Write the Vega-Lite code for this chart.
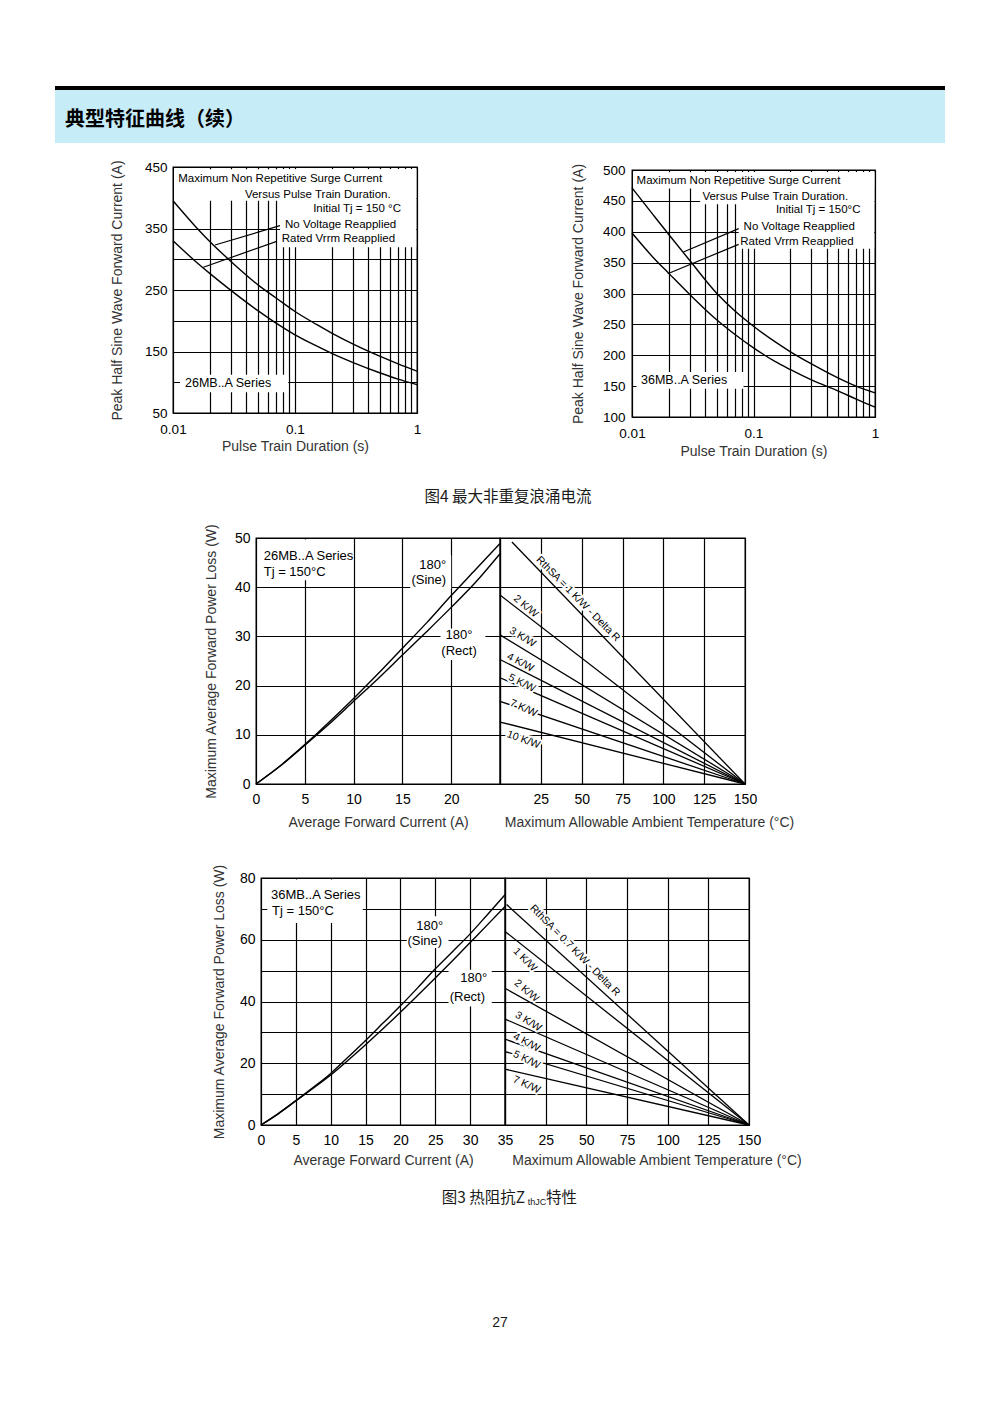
{
  "$schema": "https://vega.github.io/schema/vega-lite/v6.json",
  "padding": {"left": 55, "top": 86, "right": 0, "bottom": 0},
  "background": "white",
  "config": {
    "view": {"stroke": null},
    "font": "Liberation Sans",
    "axis": {"grid": true, "gridColor": "#000", "gridOpacity": 1, "gridWidth": 1.2, "domain": false, "ticks": false, "labelFont": "Liberation Sans", "labelFontSize": 13.5, "labelColor": "#000", "labelOverlap": false, "labelFlush": false, "titleFont": "Liberation Sans", "titleFontSize": 14, "titleFontWeight": "normal", "titleColor": "#333"},
    "text": {"font": "Liberation Sans", "color": "#000"}
  },
  "spacing": 0,
  "vconcat": [
    {"width": 890, "height": 4, "view": {"fill": "#000"}, "data": {"values": []}, "mark": "point"},
    {"bounds": "flush", "spacing": 0, "hconcat": [
      {"width": 10, "height": 53, "view": {"fill": "#c6ecf8"}, "data": {"values": []}, "mark": "point"},
      {"width": 180, "height": 53, "view": {"fill": "#c6ecf8"}, "data": {"values": [{"t": "典型特征曲线（续）"}]}, "mark": {"type": "text", "font": "Noto Sans CJK SC", "fontSize": 20, "fontWeight": "bold", "dy": 3}, "encoding": {"text": {"field": "t"}}},
      {"width": 700, "height": 53, "view": {"fill": "#c6ecf8"}, "data": {"values": []}, "mark": "point"}
    ]},
    {"width": 890, "height": 16, "data": {"values": []}, "mark": "point"},
    {"bounds": "flush", "spacing": 0, "hconcat": [
      {"width": 118, "height": 320, "data": {"values": []}, "mark": "point"},
      {
        "width": 244, "height": 246,
        "view": {"stroke": "#000", "strokeWidth": 1.3},
        "encoding": {
          "x": {"field": "x", "type": "quantitative", "scale": {"type": "log", "domain": [0.01, 1], "nice": false},
            "axis": {"values": [0.01,0.02,0.03,0.04,0.05,0.06,0.07,0.08,0.09,0.1,0.2,0.3,0.4,0.5,0.6,0.7,0.8,0.9,1],
              "labelExpr": "datum.value < 0.011 ? '0.01' : (abs(datum.value - 0.1) < 0.001 ? '0.1' : (datum.value > 0.99 ? '1' : ''))",
              "title": "Pulse Train Duration (s)", "labelPadding": 9, "titlePadding": 4}},
          "y": {"field": "y", "type": "quantitative", "scale": {"domain": [50, 450], "nice": false, "zero": false},
            "axis": {"values": [50,100,150,200,250,300,350,400,450], "labelExpr": "(datum.value - 50) % 100 == 0 ? datum.label : ''",
              "title": "Peak Half Sine Wave Forward Current (A)", "labelPadding": 6, "titlePadding": 20}}
        },
        "layer": [
          {"data": {"values": [
            {"x": 0.0102, "x2": 0.985, "y": 395.3, "y2": 446.5},
            {"x": 0.0754, "x2": 0.985, "y": 319.4, "y2": 446.5},
            {"x": 0.0114, "x2": 0.088, "y": 83.6, "y2": 112.3}]},
            "mark": {"type": "rect", "fill": "#fff"}, "encoding": {"x2": {"field": "x2"}, "y2": {"field": "y2"}}},
          {"data": {"values": [
            {"s": "a", "x": 0.01, "y": 395}, {"s": "a", "x": 0.015, "y": 355}, {"s": "a", "x": 0.02, "y": 329}, {"s": "a", "x": 0.03, "y": 296}, {"s": "a", "x": 0.05, "y": 258}, {"s": "a", "x": 0.07, "y": 237}, {"s": "a", "x": 0.1, "y": 215}, {"s": "a", "x": 0.15, "y": 194}, {"s": "a", "x": 0.2, "y": 180}, {"s": "a", "x": 0.3, "y": 162}, {"s": "a", "x": 0.5, "y": 142}, {"s": "a", "x": 0.7, "y": 130}, {"s": "a", "x": 1, "y": 118},
            {"s": "b", "x": 0.01, "y": 330}, {"s": "b", "x": 0.015, "y": 298}, {"s": "b", "x": 0.02, "y": 277}, {"s": "b", "x": 0.03, "y": 249}, {"s": "b", "x": 0.05, "y": 216}, {"s": "b", "x": 0.07, "y": 196}, {"s": "b", "x": 0.1, "y": 177}, {"s": "b", "x": 0.15, "y": 159}, {"s": "b", "x": 0.2, "y": 147}, {"s": "b", "x": 0.3, "y": 132}, {"s": "b", "x": 0.5, "y": 115}, {"s": "b", "x": 0.7, "y": 105}, {"s": "b", "x": 1, "y": 96}]},
            "mark": {"type": "line", "interpolate": "monotone", "color": "#000", "strokeWidth": 1.4}, "encoding": {"detail": {"field": "s"}}},
          {"data": {"values": [
            {"x": 0.0753, "y": 354.6, "x2": 0.0221, "y2": 323.2},
            {"x": 0.0708, "y": 329.1, "x2": 0.01774, "y2": 286.9}]},
            "mark": {"type": "rule", "color": "#000", "strokeWidth": 1.2}, "encoding": {"x2": {"field": "x2"}, "y2": {"field": "y2"}}},
          {"data": {"values": [
            {"label": "Maximum Non Repetitive Surge Current", "x": 0.01105, "y": 430.5},
            {"label": "No Voltage Reapplied", "x": 0.0828, "y": 356.2},
            {"label": "Rated Vrrm Reapplied", "x": 0.0778, "y": 332.9}]},
            "mark": {"type": "text", "align": "left", "baseline": "middle", "fontSize": 11.5}, "encoding": {"text": {"field": "label"}}},
          {"data": {"values": [
            {"label": "Versus Pulse Train Duration.", "x": 0.608, "y": 405},
            {"label": "Initial Tj = 150 °C", "x": 0.739, "y": 381.7}]},
            "mark": {"type": "text", "align": "right", "baseline": "middle", "fontSize": 11.5}, "encoding": {"text": {"field": "label"}}},
          {"data": {"values": [{"label": "26MB..A Series", "x": 0.01254, "y": 98.8}]},
            "mark": {"type": "text", "align": "left", "baseline": "middle", "fontSize": 12.5}, "encoding": {"text": {"field": "label"}}}
        ]
      },
      {"width": 215, "height": 1, "data": {"values": []}, "mark": "point"},
      {"bounds": "flush", "spacing": 0, "vconcat": [
        {"width": 243, "height": 3, "data": {"values": []}, "mark": "point"},
        {
          "width": 243, "height": 247,
          "view": {"stroke": "#000", "strokeWidth": 1.3},
          "encoding": {
            "x": {"field": "x", "type": "quantitative", "scale": {"type": "log", "domain": [0.01, 1], "nice": false},
              "axis": {"values": [0.01,0.02,0.03,0.04,0.05,0.06,0.07,0.08,0.09,0.1,0.2,0.3,0.4,0.5,0.6,0.7,0.8,0.9,1],
                "labelExpr": "datum.value < 0.011 ? '0.01' : (abs(datum.value - 0.1) < 0.001 ? '0.1' : (datum.value > 0.99 ? '1' : ''))",
                "title": "Pulse Train Duration (s)", "labelPadding": 9, "titlePadding": 5}},
            "y": {"field": "y", "type": "quantitative", "scale": {"domain": [100, 500], "nice": false, "zero": false},
              "axis": {"values": [100,150,200,250,300,350,400,450,500],
                "title": "Peak Half Sine Wave Forward Current (A)", "labelPadding": 7, "titlePadding": 17}}
          },
          "layer": [
            {"data": {"values": [
              {"x": 0.0102, "x2": 0.985, "y": 470, "y2": 496.5},
              {"x": 0.0364, "x2": 0.985, "y": 444.4, "y2": 496.5},
              {"x": 0.0755, "x2": 0.985, "y": 372.6, "y2": 496.5},
              {"x": 0.0109, "x2": 0.0829, "y": 145.9, "y2": 172.9}]},
              "mark": {"type": "rect", "fill": "#fff"}, "encoding": {"x2": {"field": "x2"}, "y2": {"field": "y2"}}},
            {"data": {"values": [
              {"s": "a", "x": 0.01, "y": 471}, {"s": "a", "x": 0.015, "y": 427}, {"s": "a", "x": 0.02, "y": 396}, {"s": "a", "x": 0.03, "y": 353}, {"s": "a", "x": 0.05, "y": 300}, {"s": "a", "x": 0.07, "y": 272}, {"s": "a", "x": 0.1, "y": 247}, {"s": "a", "x": 0.15, "y": 222}, {"s": "a", "x": 0.2, "y": 206}, {"s": "a", "x": 0.3, "y": 186}, {"s": "a", "x": 0.5, "y": 163}, {"s": "a", "x": 0.7, "y": 150}, {"s": "a", "x": 1, "y": 139},
              {"s": "b", "x": 0.01, "y": 398}, {"s": "b", "x": 0.015, "y": 358}, {"s": "b", "x": 0.02, "y": 333}, {"s": "b", "x": 0.03, "y": 298}, {"s": "b", "x": 0.05, "y": 257}, {"s": "b", "x": 0.07, "y": 234}, {"s": "b", "x": 0.1, "y": 212}, {"s": "b", "x": 0.15, "y": 190}, {"s": "b", "x": 0.2, "y": 177}, {"s": "b", "x": 0.3, "y": 160}, {"s": "b", "x": 0.5, "y": 142}, {"s": "b", "x": 0.7, "y": 129}, {"s": "b", "x": 1, "y": 116}]},
              "mark": {"type": "line", "interpolate": "monotone", "color": "#000", "strokeWidth": 1.4}, "encoding": {"detail": {"field": "s"}}},
            {"data": {"values": [
              {"x": 0.0755, "y": 405, "x2": 0.0265, "y2": 367.2},
              {"x": 0.0755, "y": 379.6, "x2": 0.01968, "y2": 332}]},
              "mark": {"type": "rule", "color": "#000", "strokeWidth": 1.2}, "encoding": {"x2": {"field": "x2"}, "y2": {"field": "y2"}}},
            {"data": {"values": [
              {"label": "Maximum Non Repetitive Surge Current", "x": 0.0109, "y": 482.2},
              {"label": "No Voltage Reapplied", "x": 0.0829, "y": 407.7},
              {"label": "Rated Vrrm Reapplied", "x": 0.0778, "y": 383.9}]},
              "mark": {"type": "text", "align": "left", "baseline": "middle", "fontSize": 11.5}, "encoding": {"text": {"field": "label"}}},
            {"data": {"values": [
              {"label": "Versus Pulse Train Duration.", "x": 0.601, "y": 456.3},
              {"label": "Initial Tj = 150°C", "x": 0.76, "y": 434.7}]},
              "mark": {"type": "text", "align": "right", "baseline": "middle", "fontSize": 11.5}, "encoding": {"text": {"field": "label"}}},
            {"data": {"values": [{"label": "36MB..A Series", "x": 0.01186, "y": 159.4}]},
              "mark": {"type": "text", "align": "left", "baseline": "middle", "fontSize": 12.5}, "encoding": {"text": {"field": "label"}}}
          ]
        }
      ]}
    ]},
    {"width": 906, "height": 20, "data": {"values": [{"t": "图4 最大非重复浪涌电流"}]}, "mark": {"type": "text", "font": "Noto Sans CJK SC", "fontSize": 15.5, "color": "#1a1a1a"}, "encoding": {"text": {"field": "t"}}},
    {"width": 890, "height": 15, "data": {"values": []}, "mark": "point"},
    {"bounds": "flush", "spacing": 0, "hconcat": [
      {"width": 201, "height": 325, "data": {"values": []}, "mark": "point"},
      {
        "width": 244, "height": 246,
        "view": {"stroke": "#000", "strokeWidth": 1.3},
        "encoding": {
          "x": {"field": "x", "type": "quantitative", "scale": {"domain": [0, 25], "nice": false},
            "axis": {"values": [0,5,10,15,20,25], "labelExpr": "datum.value < 25 ? datum.label : ''", "labelFontSize": 14,
              "title": "Average Forward Current (A)", "labelPadding": 8, "titlePadding": 9}},
          "y": {"field": "y", "type": "quantitative", "scale": {"domain": [0, 50], "nice": false},
            "axis": {"values": [0,10,20,30,40,50], "labelFontSize": 14,
              "title": "Maximum Average Forward Power Loss (W)", "labelPadding": 6, "titlePadding": 16}}
        },
        "layer": [
          {"data": {"values": [
            {"x": 0.27, "x2": 9.84, "y": 41.4, "y2": 49.7},
            {"x": 15.8, "x2": 20.0, "y": 39.7, "y2": 46.5},
            {"x": 18.9, "x2": 23.5, "y": 25.2, "y2": 31.6}]},
            "mark": {"type": "rect", "fill": "#fff"}, "encoding": {"x2": {"field": "x2"}, "y2": {"field": "y2"}}},
          {"data": {"values": [
            {"s": "sine", "x": 0, "y": 0}, {"s": "sine", "x": 2.5, "y": 3.7}, {"s": "sine", "x": 5, "y": 8.0}, {"s": "sine", "x": 7.5, "y": 12.6}, {"s": "sine", "x": 10, "y": 17.4}, {"s": "sine", "x": 12.5, "y": 22.4}, {"s": "sine", "x": 15, "y": 27.6}, {"s": "sine", "x": 17.5, "y": 32.8}, {"s": "sine", "x": 20, "y": 38.3}, {"s": "sine", "x": 22.5, "y": 43.6}, {"s": "sine", "x": 25, "y": 48.9},
            {"s": "rect", "x": 0, "y": 0}, {"s": "rect", "x": 2.5, "y": 3.7}, {"s": "rect", "x": 5, "y": 7.9}, {"s": "rect", "x": 7.5, "y": 12.2}, {"s": "rect", "x": 10, "y": 16.8}, {"s": "rect", "x": 12.5, "y": 21.4}, {"s": "rect", "x": 15, "y": 26.2}, {"s": "rect", "x": 17.5, "y": 31.0}, {"s": "rect", "x": 20, "y": 35.9}, {"s": "rect", "x": 22.5, "y": 41.0}, {"s": "rect", "x": 25, "y": 46.8}]},
            "mark": {"type": "line", "interpolate": "monotone", "color": "#000", "strokeWidth": 1.4}, "encoding": {"detail": {"field": "s"}}},
          {"data": {"values": [
            {"label": "26MB..A Series", "x": 0.79, "y": 46.3},
            {"label": "Tj = 150°C", "x": 0.79, "y": 43.0}]},
            "mark": {"type": "text", "align": "left", "baseline": "middle", "fontSize": 13}, "encoding": {"text": {"field": "label"}}},
          {"data": {"values": [
            {"label": "180°", "x": 18.1, "y": 44.6},
            {"label": "(Sine)", "x": 17.7, "y": 41.4},
            {"label": "180°", "x": 20.8, "y": 30.3},
            {"label": "(Rect)", "x": 20.8, "y": 27.0}]},
            "mark": {"type": "text", "align": "center", "baseline": "middle", "fontSize": 13}, "encoding": {"text": {"field": "label"}}}
        ]
      },
      {
        "width": 245, "height": 246,
        "view": {"stroke": "#000", "strokeWidth": 1.3},
        "encoding": {
          "x": {"field": "x", "type": "quantitative", "scale": {"domain": [0, 150], "nice": false},
            "axis": {"values": [0,25,50,75,100,125,150], "labelExpr": "datum.value > 0 ? datum.label : ''", "labelFontSize": 14,
              "title": "Maximum Allowable Ambient Temperature (°C)", "titleX": 149, "labelPadding": 8, "titlePadding": 9}},
          "y": {"field": "y", "type": "quantitative", "scale": {"domain": [0, 50], "nice": false},
            "axis": {"values": [0,10,20,30,40,50], "labels": false, "title": null}}
        },
        "layer": [
          {"data": {"values": [
            {"s": "1", "x": 7.3, "y": 49.2}, {"s": "1", "x": 150, "y": 0},
            {"s": "2", "x": 0, "y": 38.4}, {"s": "2", "x": 150, "y": 0},
            {"s": "3", "x": 0, "y": 30.3}, {"s": "3", "x": 150, "y": 0},
            {"s": "4", "x": 0, "y": 25.3}, {"s": "4", "x": 150, "y": 0},
            {"s": "5", "x": 0, "y": 21.6}, {"s": "5", "x": 150, "y": 0},
            {"s": "7", "x": 0, "y": 16.8}, {"s": "7", "x": 150, "y": 0},
            {"s": "10", "x": 0, "y": 12.6}, {"s": "10", "x": 150, "y": 0}]},
            "mark": {"type": "line", "color": "#000", "strokeWidth": 1.3}, "encoding": {"detail": {"field": "s"}}},
          {"data": {"values": [
            {"s": "1", "label": "RthSA = 1 K/W - Delta R", "x": 47.8, "y": 37.6},
            {"s": "2", "label": "2 K/W", "x": 15.8, "y": 36.1},
            {"s": "3", "label": "3 K/W", "x": 13.8, "y": 29.8},
            {"s": "4", "label": "4 K/W", "x": 12.4, "y": 24.7},
            {"s": "5", "label": "5 K/W", "x": 13.4, "y": 20.5},
            {"s": "7", "label": "7 K/W", "x": 14.4, "y": 15.4},
            {"s": "10", "label": "10 K/W", "x": 14.4, "y": 9.0}]},
            "encoding": {"text": {"field": "label"}, "angle": {"field": "s", "type": "nominal", "scale": {"type": "ordinal", "domain": ["1","2","3","4","5","7","10"], "range": [45.5, 40, 31, 28, 26, 24, 20]}, "legend": null}},
            "layer": [
              {"mark": {"type": "text", "fontSize": 10.5, "stroke": "#fff", "strokeWidth": 4, "fill": "#fff", "strokeJoin": "round"}},
              {"mark": {"type": "text", "fontSize": 10.5, "fill": "#000"}}
            ]}
        ]
      }
    ]},
    {"bounds": "flush", "spacing": 0, "hconcat": [
      {"width": 206, "height": 310, "data": {"values": []}, "mark": "point"},
      {
        "width": 244, "height": 247,
        "view": {"stroke": "#000", "strokeWidth": 1.3},
        "encoding": {
          "x": {"field": "x", "type": "quantitative", "scale": {"domain": [0, 35], "nice": false},
            "axis": {"values": [0,5,10,15,20,25,30,35], "labelFontSize": 14,
              "title": "Average Forward Current (A)", "labelPadding": 8, "titlePadding": 6}},
          "y": {"field": "y", "type": "quantitative", "scale": {"domain": [0, 80], "nice": false},
            "axis": {"values": [0,10,20,30,40,50,60,70,80], "labelExpr": "datum.value % 20 == 0 ? datum.label : ''", "labelFontSize": 14,
              "title": "Maximum Average Forward Power Loss (W)", "labelPadding": 6, "titlePadding": 13}}
        },
        "layer": [
          {"data": {"values": [
            {"x": 0.9, "x2": 14.6, "y": 65.4, "y2": 79.5},
            {"x": 20.9, "x2": 26.9, "y": 57.3, "y2": 67.6},
            {"x": 26.9, "x2": 33.1, "y": 38.4, "y2": 50.3}]},
            "mark": {"type": "rect", "fill": "#fff"}, "encoding": {"x2": {"field": "x2"}, "y2": {"field": "y2"}}},
          {"data": {"values": [
            {"s": "sine", "x": 0, "y": 0}, {"s": "sine", "x": 2.5, "y": 3.7}, {"s": "sine", "x": 5, "y": 7.9}, {"s": "sine", "x": 7.5, "y": 12.2}, {"s": "sine", "x": 10, "y": 16.7}, {"s": "sine", "x": 12.5, "y": 22.0}, {"s": "sine", "x": 15, "y": 27.4}, {"s": "sine", "x": 17.5, "y": 33.0}, {"s": "sine", "x": 20, "y": 38.6}, {"s": "sine", "x": 22.5, "y": 44.5}, {"s": "sine", "x": 25, "y": 50.6}, {"s": "sine", "x": 27.5, "y": 56.2}, {"s": "sine", "x": 30, "y": 61.9}, {"s": "sine", "x": 32.5, "y": 68.2}, {"s": "sine", "x": 35, "y": 74.6},
            {"s": "rect", "x": 0, "y": 0}, {"s": "rect", "x": 2.5, "y": 3.7}, {"s": "rect", "x": 5, "y": 7.8}, {"s": "rect", "x": 7.5, "y": 11.9}, {"s": "rect", "x": 10, "y": 16.2}, {"s": "rect", "x": 12.5, "y": 21.0}, {"s": "rect", "x": 15, "y": 26.0}, {"s": "rect", "x": 17.5, "y": 31.2}, {"s": "rect", "x": 20, "y": 36.5}, {"s": "rect", "x": 22.5, "y": 42.0}, {"s": "rect", "x": 25, "y": 47.6}, {"s": "rect", "x": 27.5, "y": 53.3}, {"s": "rect", "x": 30, "y": 59.1}, {"s": "rect", "x": 32.5, "y": 64.9}, {"s": "rect", "x": 35, "y": 70.8}]},
            "mark": {"type": "line", "interpolate": "monotone", "color": "#000", "strokeWidth": 1.4}, "encoding": {"detail": {"field": "s"}}},
          {"data": {"values": [
            {"label": "36MB..A Series", "x": 1.43, "y": 74.6},
            {"label": "Tj = 150°C", "x": 1.58, "y": 69.2}]},
            "mark": {"type": "text", "align": "left", "baseline": "middle", "fontSize": 13}, "encoding": {"text": {"field": "label"}}},
          {"data": {"values": [
            {"label": "180°", "x": 24.2, "y": 64.3},
            {"label": "(Sine)", "x": 23.5, "y": 59.5},
            {"label": "180°", "x": 30.5, "y": 47.6},
            {"label": "(Rect)", "x": 29.6, "y": 41.6}]},
            "mark": {"type": "text", "align": "center", "baseline": "middle", "fontSize": 13}, "encoding": {"text": {"field": "label"}}}
        ]
      },
      {
        "width": 244, "height": 247,
        "view": {"stroke": "#000", "strokeWidth": 1.3},
        "encoding": {
          "x": {"field": "x", "type": "quantitative", "scale": {"domain": [0, 150], "nice": false},
            "axis": {"values": [0,25,50,75,100,125,150], "labelExpr": "datum.value > 0 ? datum.label : ''", "labelFontSize": 14,
              "title": "Maximum Allowable Ambient Temperature (°C)", "titleX": 151.5, "labelPadding": 8, "titlePadding": 6}},
          "y": {"field": "y", "type": "quantitative", "scale": {"domain": [0, 80], "nice": false},
            "axis": {"values": [0,10,20,30,40,50,60,70,80], "labels": false, "title": null}}
        },
        "layer": [
          {"data": {"values": [
            {"s": "0.7", "x": 1, "y": 71.4}, {"s": "0.7", "x": 150, "y": 0},
            {"s": "1", "x": 0, "y": 62.7}, {"s": "1", "x": 150, "y": 0},
            {"s": "2", "x": 0, "y": 44.3}, {"s": "2", "x": 150, "y": 0},
            {"s": "3", "x": 0, "y": 34.3}, {"s": "3", "x": 150, "y": 0},
            {"s": "4", "x": 0, "y": 27.8}, {"s": "4", "x": 150, "y": 0},
            {"s": "5", "x": 0, "y": 23.8}, {"s": "5", "x": 150, "y": 0},
            {"s": "7", "x": 0, "y": 18.1}, {"s": "7", "x": 150, "y": 0}]},
            "mark": {"type": "line", "color": "#000", "strokeWidth": 1.3}, "encoding": {"detail": {"field": "s"}}},
          {"data": {"values": [
            {"s": "0.7", "label": "RthSA = 0.7 K/W - Delta R", "x": 43.0, "y": 56.5},
            {"s": "1", "label": "1 K/W", "x": 12.3, "y": 53.5},
            {"s": "2", "label": "2 K/W", "x": 13.3, "y": 43.4},
            {"s": "3", "label": "3 K/W", "x": 14.3, "y": 33.5},
            {"s": "4", "label": "4 K/W", "x": 13.3, "y": 26.7},
            {"s": "5", "label": "5 K/W", "x": 13.3, "y": 21.1},
            {"s": "7", "label": "7 K/W", "x": 13.3, "y": 13.0}]},
            "encoding": {"text": {"field": "label"}, "angle": {"field": "s", "type": "nominal", "scale": {"type": "ordinal", "domain": ["0.7","1","2","3","4","5","7"], "range": [42.4, 34, 30, 26, 19, 14, 15]}, "legend": null}},
            "layer": [
              {"mark": {"type": "text", "fontSize": 10.5, "stroke": "#fff", "strokeWidth": 4, "fill": "#fff", "strokeJoin": "round"}},
              {"mark": {"type": "text", "fontSize": 10.5, "fill": "#000"}}
            ]}
        ]
      }
    ]},
    {"bounds": "flush", "spacing": 0, "hconcat": [
      {"width": 385, "height": 1, "data": {"values": []}, "mark": "point"},
      {"width": 87, "height": 20, "data": {"values": [{"t": "图3 热阻抗Z"}]}, "mark": {"type": "text", "font": "Noto Sans CJK SC", "fontSize": 15.5, "color": "#1a1a1a"}, "encoding": {"text": {"field": "t"}}},
      {"width": 20, "height": 27, "data": {"values": [{"t": "thJC"}]}, "mark": {"type": "text", "font": "Liberation Sans", "fontSize": 9, "color": "#1a1a1a"}, "encoding": {"text": {"field": "t"}}},
      {"width": 29, "height": 20, "data": {"values": [{"t": "特性"}]}, "mark": {"type": "text", "font": "Noto Sans CJK SC", "fontSize": 15.5, "color": "#1a1a1a"}, "encoding": {"text": {"field": "t"}}}
    ]},
    {"width": 890, "height": 98, "data": {"values": []}, "mark": "point"},
    {"width": 890, "height": 20, "data": {"values": [{"t": "27"}]}, "mark": {"type": "text", "font": "Liberation Sans", "fontSize": 14, "color": "#1a1a1a"}, "encoding": {"text": {"field": "t"}}}
  ]
}
